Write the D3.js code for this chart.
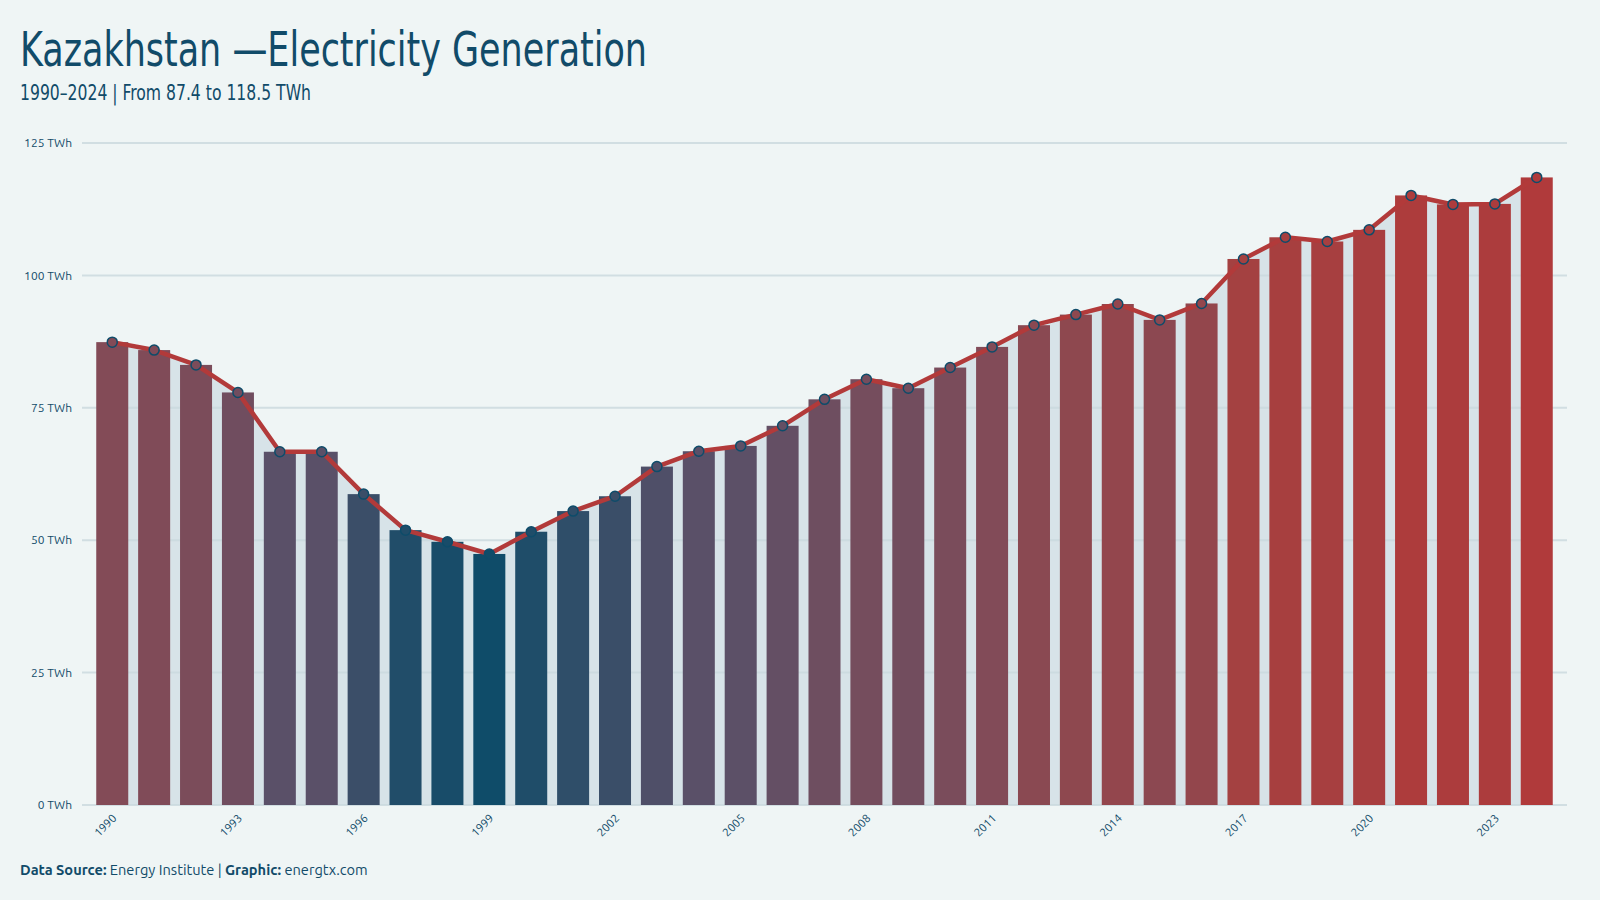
<!DOCTYPE html>
<html>
<head>
<meta charset="utf-8">
<script src="https://cdn.jsdelivr.net/npm/d3@7"></script>
<style>
  html, body { margin: 0; padding: 0; background: #eff5f5; }
  svg { display: block; }
</style>
</head>
<body>
<svg id="chart" width="1600" height="900"></svg>
<script>
// ---- data ----
const years = [1990,1991,1992,1993,1994,1995,1996,1997,1998,1999,
               2000,2001,2002,2003,2004,2005,2006,2007,2008,2009,
               2010,2011,2012,2013,2014,2015,2016,2017,2018,2019,
               2020,2021,2022,2023,2024];
const generation = [87.4,85.9,83.1,77.9,66.7,66.7,58.7,51.9,49.7,47.4,
                    51.6,55.5,58.3,63.9,66.8,67.8,71.6,76.6,80.4,78.7,
                    82.6,86.5,90.6,92.6,94.6,91.6,94.7,103.1,107.2,106.4,
                    108.6,115.1,113.4,113.5,118.5];
const yTicks = [0,25,50,75,100,125];
const xTickYears = [1990,1993,1996,1999,2002,2005,2008,2011,2014,2017,2020,2023];
const titleText = "Kazakhstan \u2014Electricity Generation";
const subtitleText = "1990\u20132024 | From 87.4 to 118.5 TWh";

const data = years.map((y, i) => ({year: y, value: generation[i]}));

// ---- layout ----
const svg = d3.select("#chart");
const W = 1600, H = 900;
const plot = {left: 82, right: 1567, top: 143, bottom: 805};
const ink = "#114b69";
const font = "Ubuntu, 'Noto Sans', 'Open Sans', sans-serif";
const condFont = "'Ubuntu Condensed', 'Liberation Sans Narrow', 'DejaVu Sans Condensed', sans-serif";

svg.append("rect").attr("width", W).attr("height", H).attr("fill", "#eff5f5");

const x = d3.scaleBand().domain(years).range([plot.left, plot.right])
  .paddingInner(0.236).paddingOuter(0.34);
const y = d3.scaleLinear().domain([0, 125]).range([plot.bottom, plot.top]);
const vmin = d3.min(generation), vmax = d3.max(generation);
const color = d3.scaleLinear()
  .domain([vmin, vmin + 0.27 * (vmax - vmin), vmin + 0.56 * (vmax - vmin), vmin + 0.78 * (vmax - vmin), vmax])
  .range(["#0f4c69", "#5a5068", "#834b57", "#a44141", "#b03a3b"])
  .clamp(true);

const cx = d => x(d.year) + x.bandwidth() / 2;

// area under line
svg.append("path")
  .datum(data)
  .attr("fill", "#d7e3e8")
  .attr("d", d3.area().x(cx).y0(y(0)).y1(d => y(d.value)));

// gridlines
svg.append("g").selectAll("line").data(yTicks).join("line")
  .attr("x1", plot.left).attr("x2", plot.right)
  .attr("y1", d => y(d)).attr("y2", d => y(d))
  .attr("stroke", "#c9d8dd").attr("stroke-opacity", 0.8).attr("stroke-width", 2);

// y labels
svg.append("g").selectAll("text").data(yTicks).join("text")
  .attr("x", 72).attr("y", d => y(d)).attr("dy", "0.35em")
  .attr("text-anchor", "end")
  .attr("font-family", font).attr("font-size", 12).attr("fill", ink)
  .text(d => d + " TWh");

// bars
svg.append("g").selectAll("rect").data(data).join("rect")
  .attr("x", d => x(d.year)).attr("width", x.bandwidth())
  .attr("y", d => y(d.value)).attr("height", d => y(0) - y(d.value))
  .attr("fill", d => color(d.value));

// line
svg.append("path")
  .datum(data)
  .attr("fill", "none").attr("stroke", "#b23a3a").attr("stroke-width", 4.5)
  .attr("stroke-linejoin", "round")
  .attr("d", d3.line().x(cx).y(d => y(d.value)));

// points
svg.append("g").selectAll("circle").data(data).join("circle")
  .attr("cx", cx).attr("cy", d => y(d.value)).attr("r", 5)
  .attr("fill", d => color(d.value))
  .attr("stroke", "#0e4c6a").attr("stroke-width", 1.5);

// x labels
svg.append("g").selectAll("text").data(xTickYears).join("text")
  .attr("transform", d => `translate(${x(d) + x.bandwidth()/2 + 5},${plot.bottom + 14}) rotate(-45)`)
  .attr("text-anchor", "end")
  .attr("font-family", font).attr("font-size", 11.5).attr("fill", ink)
  .text(d => d);

// title
svg.append("text").attr("x", 20).attr("y", 66)
  .attr("font-family", condFont).attr("font-size", 48).attr("fill", ink)
  .attr("textLength", 627).attr("lengthAdjust", "spacingAndGlyphs")
  .text(titleText);
svg.append("text").attr("x", 20).attr("y", 100)
  .attr("font-family", condFont).attr("font-size", 21).attr("fill", ink)
  .attr("textLength", 291).attr("lengthAdjust", "spacingAndGlyphs")
  .text(subtitleText);

// footer
const foot = svg.append("text").attr("x", 20).attr("y", 875)
  .attr("font-family", font).attr("font-size", 14).attr("fill", ink);
foot.append("tspan").attr("font-weight", "bold").text("Data Source:");
foot.append("tspan").text(" Energy Institute | ");
foot.append("tspan").attr("font-weight", "bold").text("Graphic:");
foot.append("tspan").text(" energtx.com");
const fw = foot.node().getComputedTextLength();
if (fw > 0) foot.attr("font-size", 14 * 348 / fw);
</script>
</body>
</html>
